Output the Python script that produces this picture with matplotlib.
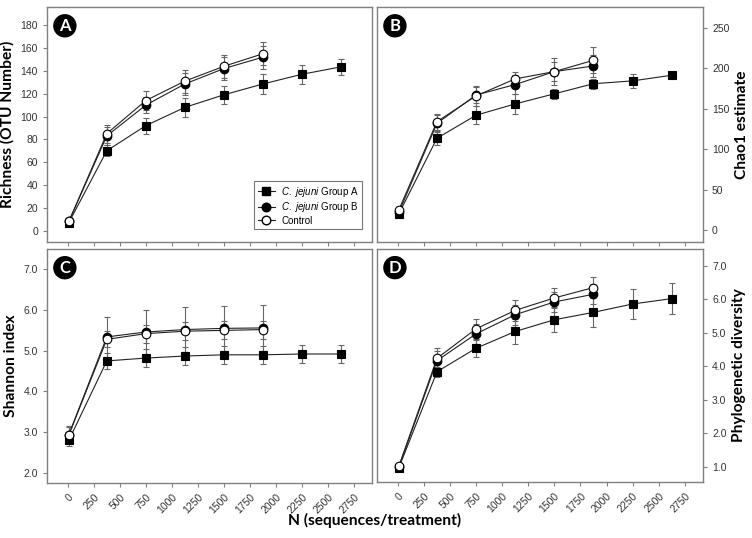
import matplotlib
matplotlib.use("Agg")
import matplotlib.pyplot as plt
from matplotlib.lines import Line2D
import numpy as np

plt.rcParams['font.family'] = 'Liberation Sans'
plt.rcParams['mathtext.fontset'] = 'custom'
plt.rcParams['mathtext.it'] = 'Liberation Sans:italic'
plt.rcParams['mathtext.rm'] = 'Liberation Sans'

# ---- data ----
n_a = [10, 375, 750, 1125, 1500, 1875, 2250, 2625]   # C. jejuni Group A
n_bc = [10, 375, 750, 1125, 1500, 1875]              # Group B and Control

rich_a = [7, 70, 92, 108, 119, 128.5, 137, 143.5]
rich_a_err = [1, 5, 7, 8, 8, 9, 8.5, 7]
rich_b = [8, 83, 110, 128.5, 142, 152]
rich_b_err = [1, 8, 7, 10, 10, 10]
rich_c = [8, 85, 114, 131, 144, 155]
rich_c_err = [1, 8, 8, 10, 10, 10]

chao_a = [20, 113.5, 142, 156, 168.5, 181, 184.5, 191.5]
chao_a_err = [2, 8, 11, 12, 6, 6, 9, 4]
chao_b = [22, 132, 167, 180, 196, 203]
chao_b_err = [2, 10, 10, 12, 12, 14]
chao_c = [25, 134, 166, 187, 196, 210]
chao_c_err = [2, 10, 12, 9, 17, 16]

shan_a = [2.8, 4.75, 4.82, 4.87, 4.9, 4.9, 4.92, 4.92]
shan_a_err = [0.15, 0.2, 0.22, 0.22, 0.22, 0.22, 0.22, 0.22]
shan_b = [2.94, 5.34, 5.46, 5.52, 5.55, 5.56]
shan_b_err = [0.2, 0.5, 0.53, 0.55, 0.55, 0.56]
shan_c = [2.93, 5.28, 5.42, 5.48, 5.5, 5.52]
shan_c_err = [0.2, 0.2, 0.22, 0.22, 0.22, 0.22]

pd_a = [0.98, 3.84, 4.54, 5.04, 5.39, 5.61, 5.86, 6.02]
pd_a_err = [0.05, 0.15, 0.25, 0.37, 0.37, 0.45, 0.45, 0.47]
pd_b = [1.0, 4.17, 4.97, 5.54, 5.92, 6.15]
pd_b_err = [0.05, 0.3, 0.3, 0.3, 0.3, 0.3]
pd_c = [1.03, 4.24, 5.12, 5.67, 6.04, 6.35]
pd_c_err = [0.05, 0.32, 0.3, 0.32, 0.3, 0.3]

x_ticks = np.arange(0, 2751, 250)

W, H = 752, 538
fig = plt.figure(figsize=(W / 100, H / 100), dpi=100)


def px_axes(x0, y0, x1, y1):
    return fig.add_axes([x0 / W, 1 - y1 / H, (x1 - x0) / W, (y1 - y0) / H])


axA = px_axes(47, 7, 372, 242)
axB = px_axes(377, 7, 703, 242)
axC = px_axes(47, 249, 372, 483)
axD = px_axes(377, 249, 703, 482)

spine_col = '#808080'
tick_col = '#333333'


def draw(ax, a, ae, b, be, c, ce):
    for xs, ys, es, mk, fc in [(n_a, a, ae, 's', 'black'),
                               (n_bc, b, be, 'o', 'black'),
                               (n_bc, c, ce, 'o', 'white')]:
        ax.errorbar(xs, ys, yerr=es, fmt='none', ecolor='#666666',
                    elinewidth=0.8, capsize=2, capthick=0.8, zorder=2)
        ax.plot(xs, ys, color='#222222', lw=0.8, zorder=3)
        ax.plot(xs, ys, ls='none', marker=mk, ms=6.2 if mk == 'o' else 5.6,
                mfc=fc, mec='black', mew=0.8, zorder=4)
    ax.set_xlim(-200, 2925)
    ax.set_xticks(x_ticks)
    for s in ax.spines.values():
        s.set_color(spine_col)
        s.set_linewidth(1.0)
    ax.tick_params(direction='out', length=3, color=spine_col,
                   labelsize=7.5, labelcolor=tick_col)


draw(axA, rich_a, rich_a_err, rich_b, rich_b_err, rich_c, rich_c_err)
draw(axB, chao_a, chao_a_err, chao_b, chao_b_err, chao_c, chao_c_err)
draw(axC, shan_a, shan_a_err, shan_b, shan_b_err, shan_c, shan_c_err)
draw(axD, pd_a, pd_a_err, pd_b, pd_b_err, pd_c, pd_c_err)

axA.set_ylim(-10, 196)
axA.set_yticks(np.arange(0, 181, 20))
axB.set_ylim(-15, 276)
axB.set_yticks(np.arange(0, 251, 50))
axC.set_ylim(1.75, 7.5)
axC.set_yticks(np.arange(2, 7.01, 1))
axD.set_ylim(0.55, 7.5)
axD.set_yticks(np.arange(1, 7.01, 1))
for ax in (axC, axD):
    ax.set_yticklabels([f'{v:.1f}' for v in ax.get_yticks()])
    ax.set_xticklabels([str(v) for v in x_ticks], rotation=45,
                       ha='right', rotation_mode='anchor')
for ax in (axA, axB):
    ax.set_xticklabels([])
for ax in (axB, axD):
    ax.yaxis.tick_right()
    ax.yaxis.set_label_position('right')

lab_kw = dict(fontfamily='Lato', fontweight='bold', fontsize=11.2)
axA.set_ylabel('Richness (OTU Number)', labelpad=4, **lab_kw)
axC.set_ylabel('Shannon index', labelpad=4, **lab_kw)
axB.set_ylabel('Chao1 estimate', labelpad=4, **lab_kw)
axD.set_ylabel('Phylogenetic diversity', labelpad=4, **lab_kw)
fig.text(375 / W, 1 - 520 / H, 'N (sequences/treatment)', ha='center',
         va='center', **lab_kw)

for ax, letter in [(axA, 'A'), (axB, 'B'), (axC, 'C'), (axD, 'D')]:
    ax.text(0.055, 0.92, letter, transform=ax.transAxes, ha='center',
            va='center', color='white', fontfamily='Lato', fontweight='bold',
            fontsize=12,
            bbox=dict(boxstyle='circle,pad=0.18', fc='black', ec='black'))

handles = [
    Line2D([], [], color='#222222', lw=0.8, marker='s', ms=5.6, mfc='black', mec='black'),
    Line2D([], [], color='#222222', lw=0.8, marker='o', ms=6.2, mfc='black', mec='black'),
    Line2D([], [], color='#222222', lw=0.8, marker='o', ms=6.2, mfc='white', mec='black'),
]
labels = [r'$\mathit{C.\ jejuni}$ Group A', r'$\mathit{C.\ jejuni}$ Group B', 'Control']
leg = axA.legend(handles, labels, loc='lower right', fontsize=7,
                 frameon=True, fancybox=False, edgecolor='#555555',
                 handlelength=1.8, handletextpad=0.6, borderpad=0.35,
                 labelspacing=0.15, bbox_to_anchor=(0.985, 0.035))
leg.get_frame().set_linewidth(0.8)

fig.savefig('out.png', dpi=100)
